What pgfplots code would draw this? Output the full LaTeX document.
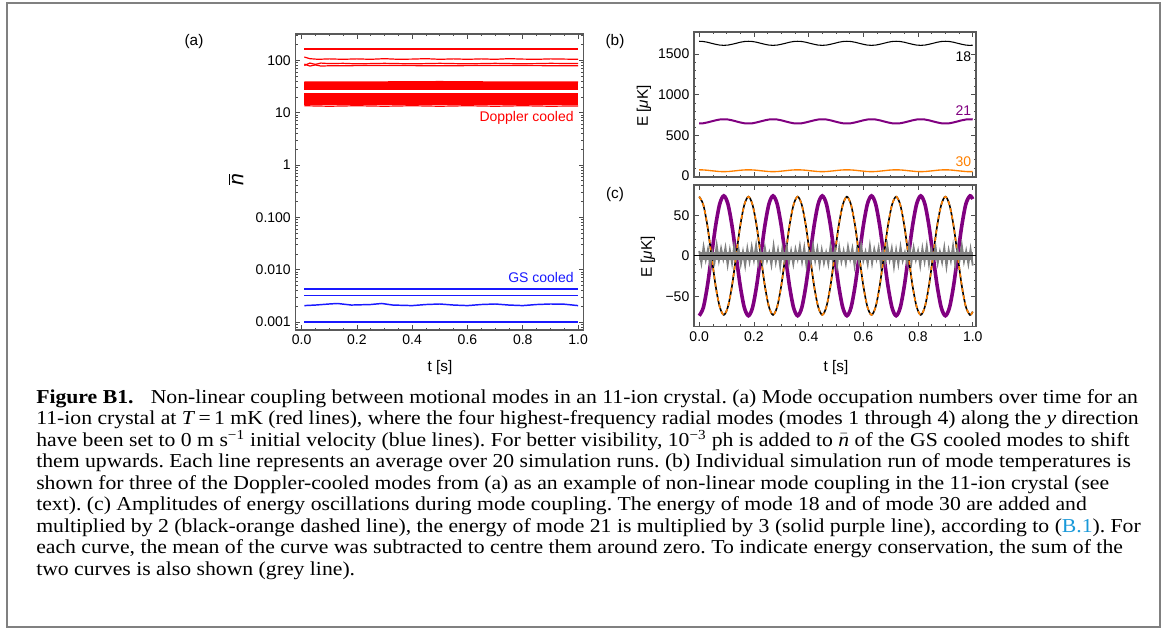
\documentclass[border=0pt]{standalone}
\usepackage{pgfplots}
\pgfplotsset{compat=1.18}
\usepackage{pgfplotstable}
\usepackage{fontspec}
\setmainfont{Liberation Sans}
\newfontfamily\capfont[FakeStretch=1.1]{Liberation Serif}

\definecolor{mred}{rgb}{1,0,0}
\definecolor{mblue}{rgb}{0.1,0.1,1}
\definecolor{mpurple}{rgb}{0.5,0,0.5}
\definecolor{morange}{rgb}{1,0.5,0}
\definecolor{mgray}{rgb}{0.5,0.5,0.5}
\definecolor{linkblue}{rgb}{0.1,0.6,0.85}

\pgfplotsset{
  mma/.style={
    scale only axis,
    axis line style={black!65, line width=0.9pt},
    tick style={black!70, line width=0.5pt},
    major tick length=3.5pt, minor tick length=1.8pt,
    tick align=inside,
    tick label style={font=\fontsize{10.5}{12}\selectfont, black},
    /pgf/number format/assume math mode=true,
    /pgf/number format/1000 sep={},
    no markers,
  },
  redl/.style={mred, line width=0.9pt},
  bluel/.style={mblue, line width=1.1pt},
}

% panels (b) and (c): t, E18, E21, E30, 2(E18+E30)-mean, 3E21-mean
\pgfplotstableread{
t     b18  b21 b30 cor cpu
0.000 1657 646 76  73 -74
0.015 1654 649 75  63 -64
0.030 1645 659 71  37 -37
0.045 1632 672 65   0   0
0.060 1620 685 60 -37  37
0.075 1610 695 55 -63  64
0.090 1607 698 54 -73  74
0.105 1610 695 55 -63  64
0.120 1620 685 60 -37  37
0.135 1632 672 65   0   0
0.150 1645 659 71  37 -37
0.165 1654 649 75  63 -64
0.180 1657 646 76  73 -74
0.195 1654 649 75  63 -64
0.210 1645 659 71  37 -37
0.225 1632 672 65   0   0
0.240 1620 685 60 -37  37
0.255 1610 695 55 -63  64
0.270 1607 698 54 -73  74
0.285 1610 695 55 -63  64
0.300 1620 685 60 -37  37
0.315 1632 672 65   0   0
0.330 1645 659 71  37 -37
0.345 1654 649 75  63 -64
0.360 1657 646 76  73 -74
0.375 1654 649 75  63 -64
0.390 1645 659 71  37 -37
0.405 1632 672 65   0   0
0.420 1620 685 60 -37  37
0.435 1610 695 55 -63  64
0.450 1607 698 54 -73  74
0.465 1610 695 55 -63  64
0.480 1620 685 60 -37  37
0.495 1632 672 65   0   0
0.510 1645 659 71  37 -37
0.525 1654 649 75  63 -64
0.540 1657 646 76  73 -74
0.555 1654 649 75  63 -64
0.570 1645 659 71  37 -37
0.585 1632 672 65   0   0
0.600 1620 685 60 -37  37
0.615 1610 695 55 -63  64
0.630 1607 698 54 -73  74
0.645 1610 695 55 -63  64
0.660 1620 685 60 -37  37
0.675 1632 672 65   0   0
0.690 1645 659 71  37 -37
0.705 1654 649 75  63 -64
0.720 1657 646 76  73 -74
0.735 1654 649 75  63 -64
0.750 1645 659 71  37 -37
0.765 1632 672 65   0   0
0.780 1620 685 60 -37  37
0.795 1610 695 55 -63  64
0.810 1607 698 54 -73  74
0.825 1610 695 55 -63  64
0.840 1620 685 60 -37  37
0.855 1632 672 65   0   0
0.870 1645 659 71  37 -37
0.885 1654 649 75  63 -64
0.900 1657 646 76  73 -74
0.915 1654 649 75  63 -64
0.930 1645 659 71  37 -37
0.945 1632 672 65   0   0
0.960 1620 685 60 -37  37
0.975 1610 695 55 -63  64
0.990 1607 698 54 -73  74
1.000 1609 696 55 -69  70
}\modes

\begin{document}
\frenchspacing
\begin{tikzpicture}
\begin{scope}[x=0.75pt,y=-0.75pt]
  \useasboundingbox (0,0) rectangle (1163,628);
  \draw[mgray, line width=1.5pt] (7,3) rectangle (1160,627);
  \begin{scope}[font=\fontsize{11.5}{13}\selectfont]
    \node at (194,42) {(a)};
    \node at (615,42) {(b)};
    \node at (615,195) {(c)};
    \node[rotate=90] at (236,180) {\fontsize{16}{18}\selectfont\itshape n\llap{\raisebox{0.62em}{\rule{0.5em}{0.06em}}}};
    \node[rotate=90] at (644,106) {E [\textit{μ}K]};
    \node[rotate=90] at (648,257) {E [\textit{μ}K]};
    \node at (440,368) {t [s]};
    \node at (836,368) {t [s]};
  \end{scope}
  \begin{scope}[capfont/.style={font=\capfont\fontsize{14.8}{16}\selectfont}]
    \tikzset{every node/.style={anchor=base west, inner sep=0pt, capfont}}
    \node at (36,403.0) {\textbf{Figure B1.}\hspace{0.6em} Non-linear coupling between motional modes in an 11-ion crystal. (a) Mode occupation numbers over time for an};
    \node at (36,424.5) {11-ion crystal at \textit{T}\,=\,1 mK (red lines), where the four highest-frequency radial modes (modes 1 through 4) along the \textit{y} direction};
    \node at (36,446.0) {have been set to 0 m s\textsuperscript{−1} initial velocity (blue lines). For better visibility, 10\textsuperscript{−3} ph is added to $\bar{\textit{n}}$ of the GS cooled modes to shift};
    \node at (36,467.5) {them upwards. Each line represents an average over 20 simulation runs. (b) Individual simulation run of mode temperatures is};
    \node at (36,489.0) {shown for three of the Doppler-cooled modes from (a) as an example of non-linear mode coupling in the 11-ion crystal (see};
    \node at (36,510.5) {text). (c) Amplitudes of energy oscillations during mode coupling. The energy of mode 18 and of mode 30 are added and};
    \node at (36,532.0) {multiplied by 2 (black-orange dashed line), the energy of mode 21 is multiplied by 3 (solid purple line), according to (\textcolor{linkblue}{B.1}). For};
    \node at (36,553.5) {each curve, the mean of the curve was subtracted to centre them around zero. To indicate energy conservation, the sum of the};
    \node at (36,575.0) {two curves is also shown (grey line).};
  \end{scope}
\end{scope}

% ---- (a) mode occupation ----
\begin{axis}[mma, ymode=log,
    at={(221.6pt,-247.5pt)}, anchor=south west,
    width=215.9pt, height=222pt,
    xmin=-0.022, xmax=1.019, ymin=7e-4, ymax=320,
    xtick={0,0.2,0.4,0.6,0.8,1}, xticklabels={0.0,0.2,0.4,0.6,0.8,1.0},
    minor x tick num=3,
    ytick={0.001,0.01,0.1,1,10,100},
    yticklabels={0.001,0.010,0.100,1,10,100},
    minor ytick={8e-4,9e-4,2e-3,3e-3,4e-3,5e-3,6e-3,7e-3,8e-3,9e-3,
      2e-2,3e-2,4e-2,5e-2,6e-2,7e-2,8e-2,9e-2,0.2,0.3,0.4,0.5,0.6,0.7,0.8,0.9,
      2,3,4,5,6,7,8,9,20,30,40,50,60,70,80,90,200,300},
]
\addplot[redl] coordinates {(0.01,165)(1,165)};
\addplot[redl] coordinates {(0.01,116)(0.03,108)(0.06,105)(0.1,107)(0.15,105)(0.2,107)(0.25,105)(0.3,108)(0.35,105)(0.4,106)(0.45,108)(0.5,105)(0.55,107)(0.6,105)(0.65,107)(0.7,105)(0.75,108)(0.8,106)(0.85,105)(0.9,107)(0.95,106)(1,105)};
\addplot[redl] coordinates {(0.01,80)(0.03,89)(0.05,84)(0.07,89)(0.1,87)(0.15,88)(0.2,86)(0.3,88)(0.4,86)(0.5,88)(0.6,86)(0.7,88)(0.8,86)(0.9,88)(1,87)};
\addplot[redl] coordinates {(0.01,85)(0.03,78)(0.05,82)(0.07,78)(0.1,79)(0.3,80)(0.5,79)(0.7,80)(1,79)};
% band around 30-40
\addplot[redl] coordinates {(0.01,28.5)(1,28.5)};
\addplot[redl] coordinates {(0.01,29.9)(1,29.9)};
\addplot[redl] coordinates {(0.01,31.4)(1,31.4)};
\addplot[redl] coordinates {(0.01,33.6)(1,33.6)};
\addplot[redl] coordinates {(0.01,35.2)(1,35.2)};
\addplot[redl] coordinates {(0.01,36.9)(1,36.9)};
\addplot[redl] coordinates {(0.01,38.6)(0.3,38.9)(0.5,39.4)(0.7,38.8)(1,38.7)};
% band around 13-23
\addplot[redl] coordinates {(0.01,13.6)(0.1,13.3)(0.2,13.6)(0.3,13.3)(0.4,13.6)(0.5,13.3)(0.6,13.6)(0.7,13.3)(0.8,13.6)(0.9,13.3)(1,13.5)};
\addplot[redl] coordinates {(0.01,14.2)(1,14.2)};
\addplot[redl] coordinates {(0.01,14.9)(1,14.9)};
\addplot[redl] coordinates {(0.01,15.6)(1,15.6)};
\addplot[redl] coordinates {(0.01,16.4)(1,16.4)};
\addplot[redl] coordinates {(0.01,17.2)(1,17.2)};
\addplot[redl] coordinates {(0.01,18.1)(1,18.1)};
\addplot[redl] coordinates {(0.01,19.0)(1,19.0)};
\addplot[redl] coordinates {(0.01,19.9)(1,19.9)};
\addplot[redl] coordinates {(0.01,20.9)(1,20.9)};
\addplot[redl] coordinates {(0.01,21.9)(1,21.9)};
\addplot[redl] coordinates {(0.01,23.3)(1,23.3)};
% GS cooled
\addplot[bluel] coordinates {(0.01,0.0043)(1,0.0043)};
\addplot[bluel] coordinates {(0.01,0.0032)(1,0.0032)};
\addplot[bluel] coordinates {(0.01,0.00205)(0.05,0.0021)(0.1,0.0022)(0.13,0.00225)(0.18,0.0021)(0.25,0.00215)(0.29,0.00225)(0.33,0.0021)(0.4,0.00205)(0.45,0.00215)(0.5,0.0022)(0.55,0.0021)(0.6,0.00205)(0.65,0.00215)(0.7,0.0022)(0.75,0.0021)(0.8,0.00205)(0.85,0.00215)(0.9,0.0022)(0.95,0.00218)(1,0.00205)};
\addplot[bluel] coordinates {(0.01,0.001)(1,0.001)};
\node[anchor=east, text=mred, font=\fontsize{10.5}{12}\selectfont, inner sep=0pt] at (axis cs:0.985,7.9) {Doppler cooled};
\node[anchor=east, text=mblue, font=\fontsize{10.5}{12}\selectfont, inner sep=0pt] at (axis cs:0.985,0.0071) {GS cooled};
\end{axis}

% ---- (b) mode temperatures ----
\begin{axis}[mma,
    at={(520.5pt,-132.75pt)}, anchor=south west,
    width=211.5pt, height=108.75pt,
    xmin=-0.019, xmax=1.012, ymin=-12, ymax=1771,
    xtick={0,0.2,0.4,0.6,0.8,1}, xticklabels={},
    minor x tick num=3,
    ytick={0,500,1000,1500}, yticklabels={0,500,1000,1500},
    minor y tick num=4,
]
\addplot[black, line width=0.8pt, smooth] table[x=t, y=b18] {\modes};
\addplot[mpurple, line width=1.5pt, smooth] table[x=t, y=b21] {\modes};
\addplot[morange, line width=1pt, smooth] table[x=t, y=b30] {\modes};
\node[anchor=east, font=\fontsize{10.5}{12}\selectfont, inner sep=0pt] at (axis cs:0.995,1465) {18};
\node[anchor=east, text=mpurple, font=\fontsize{10.5}{12}\selectfont, inner sep=0pt] at (axis cs:0.995,800) {21};
\node[anchor=east, text=morange, font=\fontsize{10.5}{12}\selectfont, inner sep=0pt] at (axis cs:0.995,172) {30};
\end{axis}

% ---- (c) energy oscillation amplitudes ----
\begin{axis}[mma,
    at={(520.5pt,-245pt)}, anchor=south west,
    width=211.5pt, height=106.3pt,
    xmin=-0.019, xmax=1.012, ymin=-87.5, ymax=87.5,
    xtick={0,0.2,0.4,0.6,0.8,1}, xticklabels={0.0,0.2,0.4,0.6,0.8,1.0},
    minor x tick num=3,
    ytick={-50,0,50}, yticklabels={−50,0,50},
    minor y tick num=4,
]
\addplot[mpurple, line width=2.7pt, smooth] table[x=t, y=cpu] {\modes};
\addplot[black, line width=1.2pt, smooth] table[x=t, y=cor] {\modes};
\addplot[morange, line width=1.2pt, smooth, dash pattern=on 3pt off 2.5pt] table[x=t, y=cor] {\modes};
% sum of the two curves: solid core plus spikes
\addplot[fill=mgray, draw=none] coordinates {(0,-5)(1,-5)(1,5)(0,5)} -- cycle;
\addplot[mgray, line width=1.4pt] coordinates {
(0,6)(.008,-9)(.016,11)(.024,-5)(.032,8)(.040,-12)(.048,4)(.056,-8)(.064,13)(.072,-6)
(.080,9)(.088,-4)(.096,10)(.104,-11)(.112,7)(.120,-9)(.128,12)(.136,-3)(.144,8)(.152,-10)
(.160,5)(.168,-12)(.176,9)(.184,-7)(.192,11)(.200,-5)(.208,13)(.216,-9)(.224,6)(.232,-8)
(.240,10)(.248,-6)(.256,4)(.264,-11)(.272,12)(.280,-8)(.288,7)(.296,-13)(.304,9)(.312,-5)
(.320,11)(.328,-9)(.336,6)(.344,-10)(.352,8)(.360,-4)(.368,12)(.376,-7)(.384,10)(.392,-12)
(.400,5)(.408,-8)(.416,13)(.424,-6)(.432,9)(.440,-11)(.448,7)(.456,-9)(.464,4)(.472,-10)
(.480,12)(.488,-5)(.496,8)(.504,-13)(.512,10)(.520,-7)(.528,6)(.536,-9)(.544,11)(.552,-4)
(.560,9)(.568,-12)(.576,7)(.584,-8)(.592,13)(.600,-6)(.608,5)(.616,-10)(.624,12)(.632,-9)
(.640,8)(.648,-4)(.656,10)(.664,-11)(.672,6)(.680,-8)(.688,12)(.696,-5)(.704,9)(.712,-13)
(.720,7)(.728,-10)(.736,11)(.744,-6)(.752,4)(.760,-9)(.768,13)(.776,-8)(.784,10)(.792,-5)
(.800,6)(.808,-12)(.816,9)(.824,-7)(.832,12)(.840,-10)(.848,8)(.856,-4)(.864,11)(.872,-9)
(.880,5)(.888,-8)(.896,10)(.904,-13)(.912,7)(.920,-6)(.928,12)(.936,-11)(.944,9)(.952,-5)
(.960,13)(.968,-7)(.976,6)(.984,-10)(.992,8)(1.000,-12)};
\addplot[black, line width=0.8pt] coordinates {(-0.019,0)(1.012,0)};
\end{axis}
\end{tikzpicture}
\end{document}
